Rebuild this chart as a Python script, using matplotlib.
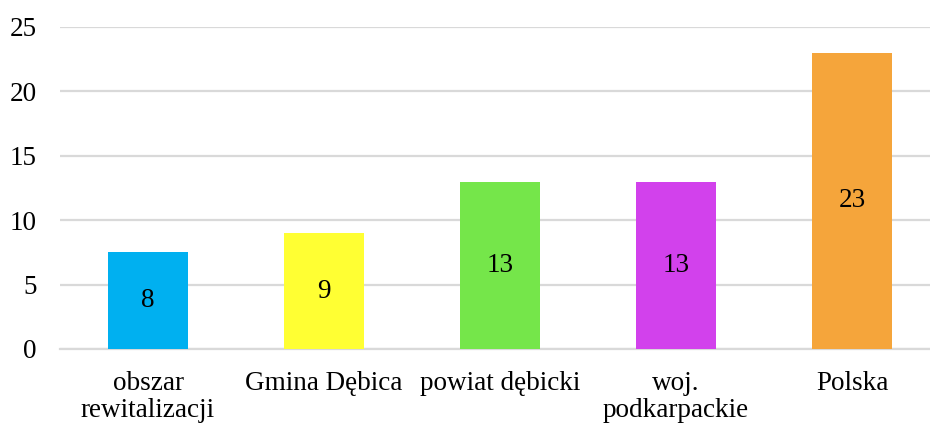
import matplotlib
matplotlib.use("Agg")
import matplotlib.pyplot as plt

categories = ["obszar\nrewitalizacji", "Gmina Dębica", "powiat dębicki", "woj.\npodkarpackie", "Polska"]
values = [7.5, 9.0, 13.0, 13.0, 23.0]
labels = ["8", "9", "13", "13", "23"]
colors = ["#00B0F0", "#FFFF33", "#75E64A", "#D241EC", "#F5A53B"]
yticks = [0, 5, 10, 15, 20, 25]

plt.rcParams["font.family"] = ["Liberation Serif", "DejaVu Serif"]
fig = plt.figure(figsize=(9.3, 4.26), dpi=100)
W, H = 930, 426
left, right = 60, 940
bottom, top = 349, 27
ax = fig.add_axes([left / W, (H - bottom) / H, (right - left) / W, (bottom - top) / H])

FS = 19.5
x = range(len(categories))
bars = ax.bar(x, values, width=0.46, color=colors, zorder=3)
for b, lab in zip(bars, labels):
    ax.text(b.get_x() + b.get_width() / 2, b.get_height() / 2, lab,
            ha="center", va="center", fontsize=FS, zorder=4)

ax.set_xlim(-0.5, len(categories) - 0.5)
ax.set_ylim(0, 25)
ax.set_yticks(yticks)
ax.set_xticks(list(x))
ax.set_xticklabels(categories, fontsize=FS, linespacing=1.1)
ax.tick_params(axis="y", labelsize=FS, length=0, pad=17)
ax.tick_params(axis="x", length=0, pad=16)
ax.grid(axis="y", color="#D9D9D9", linewidth=1.6, zorder=0)
for s in ["top", "right", "left"]:
    ax.spines[s].set_visible(False)
ax.spines["bottom"].set_color("#D9D9D9")
ax.spines["bottom"].set_linewidth(1.6)

fig.savefig("out.png", dpi=100)
